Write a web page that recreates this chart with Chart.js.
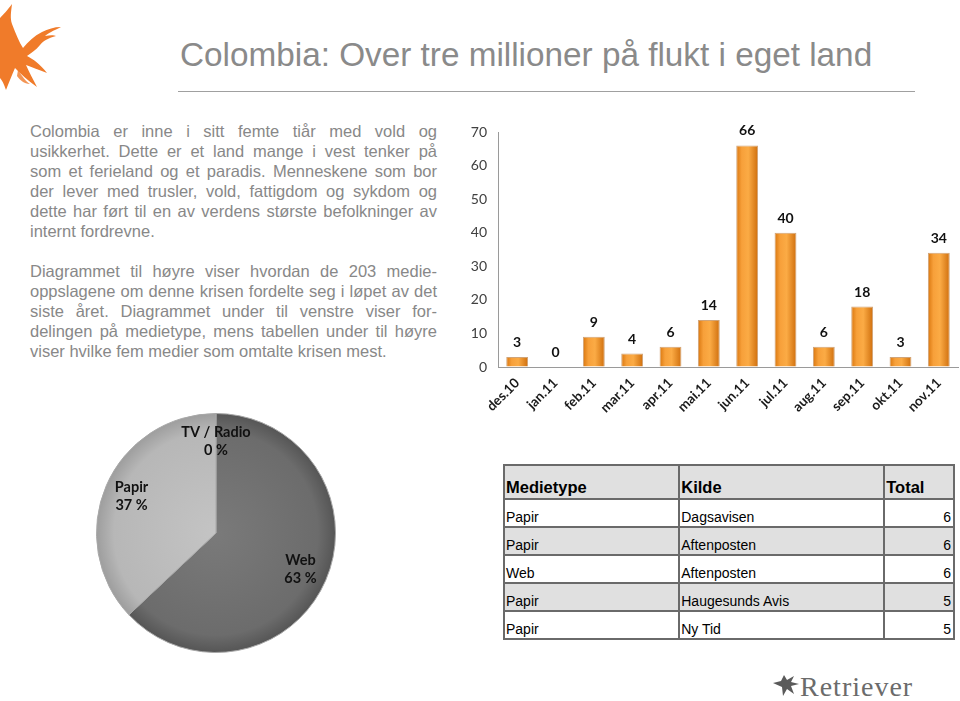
<!DOCTYPE html>
<html lang="no">
<head>
<meta charset="utf-8">
<title>Colombia: Over tre millioner på flukt i eget land</title>
<script src="https://cdn.jsdelivr.net/npm/chart.js@4/dist/chart.umd.min.js"></script>
<style>
body { margin: 0; background: #fff; }
#lysbilde { position: relative; width: 960px; height: 701px; overflow: hidden; background: #fff;
  font-family: "Liberation Sans", Arial, sans-serif; }
#tittel { position: absolute; left: 180px; top: 38px; font-size: 33.3px; line-height: 33px; color: #8a8a8a; white-space: nowrap; }
#strek { position: absolute; left: 178px; top: 91px; width: 737px; height: 1px; background: #a0a0a0; }
#tekst { position: absolute; left: 30px; top: 121px; width: 407px; font-size: 16.5px; line-height: 20px; color: #888; }
#tekst p { margin: 0 0 20px 0; }
#tekst span { display: block; white-space: nowrap; text-align: justify; text-align-last: justify; }
#tekst span.siste { text-align-last: left; }
#stolper { position: absolute; left: 460px; top: 110px; }
#kake { position: absolute; left: 96px; top: 413px; }
#tabell { position: absolute; left: 503px; top: 464px; width: 452px; border-collapse: collapse; font-size: 14px; color: #000; }
#tabell td, #tabell th { border: 2px solid #6a6a6a; padding: 0 2px 1px 1px; vertical-align: bottom; height: 25px; }
#tabell th { font-size: 16.5px; text-align: left; height: 31px; background: #e0e0e0; }
#tabell tr.graa td { background: #e0e0e0; }
#tabell td.tall { text-align: right; }
#logo { position: absolute; left: 0; top: 0; }
#retriever { position: absolute; left: 800px; top: 671px; font-family: "Liberation Serif", "DejaVu Serif", serif;
  font-size: 28px; letter-spacing: 1px; color: #6b6b6b; }
#fugl { position: absolute; left: 772px; top: 672px; }
</style>
</head>
<body>
<div id="lysbilde">
  <svg id="logo" width="70" height="95" viewBox="0 0 70 95">
    <path fill="#f07b2a" d="M0,18 C6,12 9,8 12,4 C11,12 10,18 12,24 C16,34 19,42 23,48 C28,42 34,36 42,32 C48,29 54,27 61,27 C53,31 48,33 45,36 C50,35 54,35 56,36 C49,38 44,40 40,45 C36,50 31,53 27,56 C33,59 40,64 47,73 C39,70 32,67 26,65 C29,72 33,79 37,87 C28,81 21,74 15,68 C12,75 9,82 6,90 C4,84 2,80 0,78 Z"/>
    <path fill="#f07b2a" d="M18,70 C22,76 26,82 30,84 C24,84 20,80 17,76 Z" opacity="0.8"/>
  </svg>
  <div id="tittel">Colombia: Over tre millioner på flukt i eget land</div>
  <div id="strek"></div>
  <div id="tekst">
    <p>
      <span>Colombia er inne i sitt femte tiår med vold og</span>
      <span>usikkerhet. Dette er et land mange i vest tenker på</span>
      <span>som et ferieland og et paradis. Menneskene som bor</span>
      <span>der lever med trusler, vold, fattigdom og sykdom og</span>
      <span>dette har ført til en av verdens største befolkninger av</span>
      <span class="siste">internt fordrevne.</span>
    </p>
    <p>
      <span>Diagrammet til høyre viser hvordan de 203 medie-</span>
      <span>oppslagene om denne krisen fordelte seg i løpet av det</span>
      <span>siste året. Diagrammet under til venstre viser for-</span>
      <span>delingen på medietype, mens tabellen under til høyre</span>
      <span class="siste">viser hvilke fem medier som omtalte krisen mest.</span>
    </p>
  </div>
  <canvas id="stolper" width="500" height="310"></canvas>
  <canvas id="kake" width="240" height="240"></canvas>
  <table id="tabell"></table>
  <svg id="fugl" width="28" height="26" viewBox="0 0 28 26">
    <path fill="#5a5a5a" d="M1,11 L9,9 L12,3 L15,8 L22,4 L19,10 L27,12 L19,14 L22,22 L15,17 L11,24 L10,15 Z"/>
  </svg>
  <div id="retriever">Retriever</div>
</div>
<script>
// stolpediagram: medieoppslag per måned
var maaneder = ["des.10", "jan.11", "feb.11", "mar.11", "apr.11", "mai.11", "jun.11", "jul.11", "aug.11", "sep.11", "okt.11", "nov.11"];
var oppslag = [3, 0, 9, 4, 6, 14, 66, 40, 6, 18, 3, 34];
var yMin = 0, yMaks = 70, ySteg = 10;

// kakediagram: fordeling på medietype (prosent)
var medietyper = ["TV / Radio", "Web", "Papir"];
var andeler = [0, 63, 37];

// tabell: de fem mediene som omtalte krisen mest
var kolonner = ["Medietype", "Kilde", "Total"];
var tabellType = ["Papir", "Papir", "Web", "Papir", "Papir"];
var tabellKilde = ["Dagsavisen", "Aftenposten", "Aftenposten", "Haugesunds Avis", "Ny Tid"];
var tabellTotal = [6, 6, 6, 5, 5];

var stolpeAndel = 0.57;

function stolpeFarge(c) {
  var sx = c.chart.scales.x;
  if (!sx || c.type !== 'data') return '#f39a34';
  var x = sx.getPixelForValue(c.dataIndex);
  var halv = sx.width / maaneder.length * stolpeAndel / 2;
  if (!isFinite(x) || !isFinite(halv) || halv <= 0) return '#f39a34';
  var g = c.chart.ctx.createLinearGradient(x - halv, 0, x + halv, 0);
  g.addColorStop(0, '#d9760e');
  g.addColorStop(0.25, '#f7a03a');
  g.addColorStop(0.55, '#fbab45');
  g.addColorStop(1, '#cf6e0c');
  return g;
}

var verdiEtiketter = {
  id: 'verdiEtiketter',
  afterDatasetsDraw: function(chart) {
    var ctx = chart.ctx;
    ctx.save();
    ctx.font = 'bold 14px Lato, "Open Sans", sans-serif';
    ctx.fillStyle = '#111';
    ctx.textAlign = 'center';
    ctx.textBaseline = 'alphabetic';
    chart.getDatasetMeta(0).data.forEach(function(bar, i) {
      ctx.fillText(String(oppslag[i]), bar.x, bar.y - 10);
    });
    ctx.restore();
  }
};

new Chart(document.getElementById('stolper'), {
  type: 'bar',
  data: {
    labels: maaneder,
    datasets: [{
      data: oppslag,
      backgroundColor: stolpeFarge,
      borderColor: 'rgba(170,90,10,0.55)',
      borderWidth: 1,
      barPercentage: stolpeAndel,
      categoryPercentage: 1
    }]
  },
  options: {
    responsive: false,
    animation: false,
    layout: { padding: { top: 22, right: 2, left: 0, bottom: 0 } },
    plugins: { legend: { display: false }, tooltip: { enabled: false } },
    scales: {
      x: {
        grid: { display: false, drawTicks: false },
        border: { display: true, color: '#9a9a9a', width: 1 },
        ticks: {
          autoSkip: false, maxRotation: 45, minRotation: 45, padding: 8,
          color: '#1a1a1a', font: { family: 'Lato, "Open Sans", sans-serif', size: 13.5, weight: 'bold' }
        },
        afterFit: function(s) { s.height = 53; }
      },
      y: {
        min: yMin, max: yMaks,
        grid: { drawOnChartArea: false, drawTicks: false },
        border: { display: true, color: '#9a9a9a', width: 1 },
        ticks: {
          stepSize: ySteg, padding: 11, color: '#404040',
          font: { family: 'Lato, "Open Sans", sans-serif', size: 14 }
        },
        afterFit: function(s) { s.width = 38; }
      }
    }
  },
  plugins: [verdiEtiketter]
});

var kakeFarger = [['#8a8a8a', '#7a7a7a', '#5e5e5e'], ['#7a7a7a', '#6c6c6c', '#555555'], ['#c4c4c4', '#b7b7b7', '#9d9d9d']];
function kakeFarge(c) {
  var a = c.chart.chartArea;
  var f = kakeFarger[c.dataIndex];
  if (!a) return f[1];
  var cx = (a.left + a.right) / 2, cy = (a.top + a.bottom) / 2;
  var r = Math.min(a.right - a.left, a.bottom - a.top) / 2;
  var g = c.chart.ctx.createRadialGradient(cx, cy, 0, cx, cy, r);
  g.addColorStop(0, f[0]);
  g.addColorStop(0.85, f[1]);
  g.addColorStop(1, f[2]);
  return g;
}

var kakeEtiketter = {
  id: 'kakeEtiketter',
  afterDatasetsDraw: function(chart) {
    var ctx = chart.ctx;
    ctx.save();
    ctx.font = 'bold 14.5px Lato, "Open Sans", sans-serif';
    ctx.fillStyle = '#111';
    ctx.textAlign = 'center';
    ctx.textBaseline = 'middle';
    chart.getDatasetMeta(0).data.forEach(function(arc, i) {
      var p = arc.getProps(['x', 'y', 'startAngle', 'endAngle', 'outerRadius']);
      var midt = (p.startAngle + p.endAngle) / 2;
      var r = p.outerRadius * 0.77;
      var x = p.x + Math.cos(midt) * r, y = p.y + Math.sin(midt) * r;
      ctx.fillText(medietyper[i], x, y - 9);
      ctx.fillText(andeler[i] + ' %', x, y + 9);
    });
    ctx.restore();
  }
};

new Chart(document.getElementById('kake'), {
  type: 'pie',
  data: {
    labels: medietyper,
    datasets: [{ data: andeler, backgroundColor: kakeFarge, borderColor: '#a8a8a8', borderWidth: 1 }]
  },
  options: {
    responsive: false,
    animation: false,
    layout: { padding: 0 },
    plugins: { legend: { display: false }, tooltip: { enabled: false } }
  },
  plugins: [kakeEtiketter]
});

// bygg tabellen fra listene
var tabell = document.getElementById('tabell');
var hode = '<tr>' + kolonner.map(function(k) { return '<th>' + k + '</th>'; }).join('') + '</tr>';
var rader = tabellType.map(function(t, i) {
  return '<tr' + (i % 2 === 1 ? ' class="graa"' : '') + '><td>' + t + '</td><td>' + tabellKilde[i] +
    '</td><td class="tall">' + tabellTotal[i] + '</td></tr>';
}).join('');
tabell.innerHTML = '<colgroup><col style="width:176px"><col style="width:206px"><col style="width:70px"></colgroup>' + hode + rader;
</script>
</body>
</html>
